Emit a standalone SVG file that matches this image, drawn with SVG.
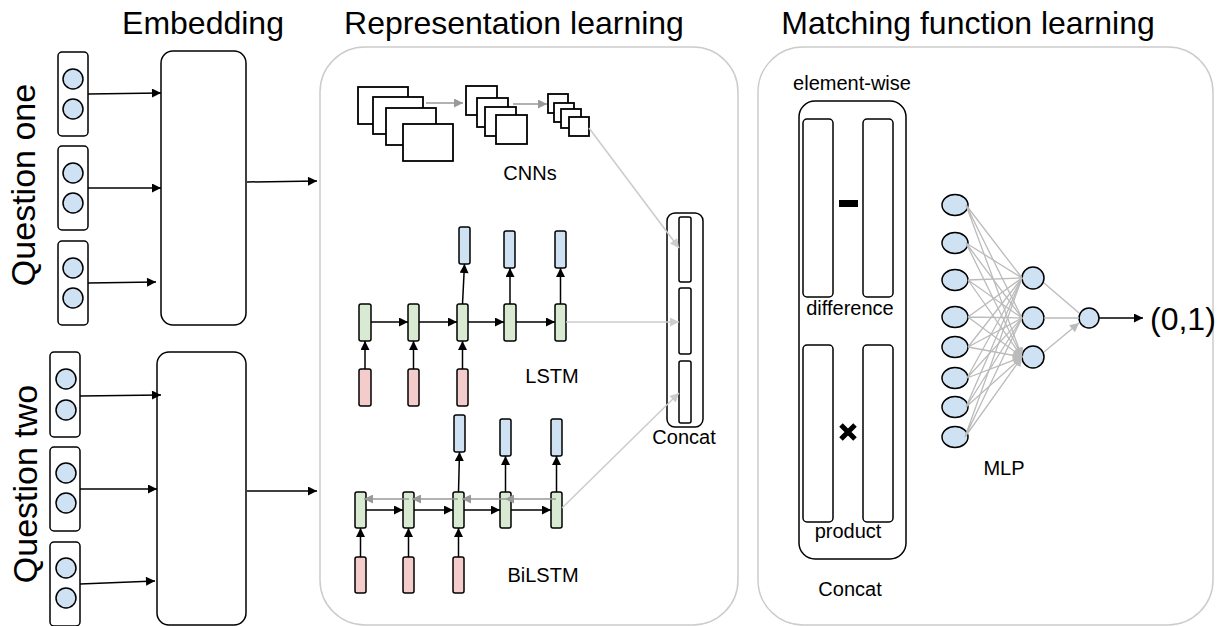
<svg xmlns="http://www.w3.org/2000/svg" width="1224" height="626" viewBox="0 0 1224 626">
<style>
text{font-family:"Liberation Sans",Arial,sans-serif;fill:#000}
.title{font-size:32px;text-anchor:middle}
.q{font-size:34px;text-anchor:middle}
.lbl{font-size:20px;text-anchor:middle}
.panel{fill:none;stroke:#cccccc;stroke-width:1.5}
.box{fill:#fff;stroke:#000;stroke-width:1.5}
.cir{fill:#cfe2f3;stroke:#000;stroke-width:1.5}
.blue{fill:#cfe2f3;stroke:#000;stroke-width:1.5}
.green{fill:#d9ead3;stroke:#000;stroke-width:1.5}
.red{fill:#f4cccc;stroke:#000;stroke-width:1.5}
.fm{fill:#fff;stroke:#000;stroke-width:1.8}
.arr{fill:none;stroke:#000;stroke-width:1.5;marker-end:url(#ah)}
.garr{fill:none;stroke:#999;stroke-width:1.5;marker-end:url(#gh)}
.larr{fill:none;stroke:#cccccc;stroke-width:1.5;marker-end:url(#lh)}
.mlp{fill:none;stroke:#bbbbbb;stroke-width:1.3;marker-end:url(#mh)}
</style>
<defs>
<marker id="ah" viewBox="0 0 10 10" refX="10" refY="5" markerWidth="12" markerHeight="9" markerUnits="userSpaceOnUse" orient="auto"><path d="M0,0 L10,5 L0,10 z" fill="#000"/></marker>
<marker id="gh" viewBox="0 0 10 10" refX="10" refY="5" markerWidth="11" markerHeight="9" markerUnits="userSpaceOnUse" orient="auto"><path d="M0,0 L10,5 L0,10 z" fill="#999"/></marker>
<marker id="lh" viewBox="0 0 10 10" refX="10" refY="5" markerWidth="11" markerHeight="9" markerUnits="userSpaceOnUse" orient="auto"><path d="M0,0 L10,5 L0,10 z" fill="#cccccc"/></marker>
<marker id="mh" viewBox="0 0 10 10" refX="10" refY="5" markerWidth="11" markerHeight="9" markerUnits="userSpaceOnUse" orient="auto"><path d="M0,0 L10,5 L0,10 z" fill="#bbbbbb"/></marker>
</defs>

<g id="titles">
<text class="title" x="203" y="34">Embedding</text>
<text class="title" x="514" y="34">Representation learning</text>
<text class="title" x="968" y="34">Matching function learning</text>
<text class="q" transform="translate(35,185) rotate(-90)">Question one</text>
<text class="q" transform="translate(37,484) rotate(-90)">Question two</text>
</g>

<g id="panel-representation"><rect class="panel" x="320" y="47" width="418" height="578" rx="45"/></g>
<g id="panel-matching"><rect class="panel" x="758" y="47" width="455" height="578" rx="45"/></g>

<g id="q1-word1"><rect class="box" x="58" y="52" width="30" height="84" rx="4"/><circle class="cir" cx="73" cy="79" r="10"/><circle class="cir" cx="73" cy="109" r="10"/></g>
<g id="q1-word2"><rect class="box" x="58" y="146" width="30" height="84" rx="4"/><circle class="cir" cx="73" cy="173" r="10"/><circle class="cir" cx="73" cy="203" r="10"/></g>
<g id="q1-word3"><rect class="box" x="58" y="241" width="30" height="84" rx="4"/><circle class="cir" cx="73" cy="268" r="10"/><circle class="cir" cx="73" cy="298" r="10"/></g>
<g id="q1-embed"><rect class="box" x="161" y="51" width="85" height="274" rx="12"/></g>

<g id="q2-word1"><rect class="box" x="50" y="352" width="30" height="85" rx="4"/><circle class="cir" cx="66" cy="379" r="10"/><circle class="cir" cx="66" cy="410" r="10"/></g>
<g id="q2-word2"><rect class="box" x="50" y="447" width="30" height="84" rx="4"/><circle class="cir" cx="66" cy="473" r="10"/><circle class="cir" cx="66" cy="503" r="10"/></g>
<g id="q2-word3"><rect class="box" x="50" y="542" width="30" height="84" rx="4"/><circle class="cir" cx="66" cy="568" r="10"/><circle class="cir" cx="66" cy="598" r="10"/></g>
<g id="q2-embed"><rect class="box" x="157" y="352" width="89" height="273" rx="12"/></g>

<g id="cnn">
<rect class="fm" x="358" y="87" width="50" height="37"/>
<rect class="fm" x="373" y="97" width="50" height="37"/>
<rect class="fm" x="386" y="108" width="50" height="37"/>
<rect class="fm" x="403" y="124" width="50" height="37"/>
<rect class="fm" x="466" y="86" width="31" height="29"/>
<rect class="fm" x="477" y="98" width="31" height="29"/>
<rect class="fm" x="485" y="107" width="31" height="29"/>
<rect class="fm" x="496" y="115" width="31" height="29"/>
<rect class="fm" x="548" y="94" width="20" height="19"/>
<rect class="fm" x="554" y="103" width="20" height="19"/>
<rect class="fm" x="561" y="109" width="20" height="19"/>
<rect class="fm" x="569" y="117" width="20" height="19"/>
<text class="lbl" x="530" y="180">CNNs</text>
</g>

<g id="lstm">
<rect class="blue" x="459" y="227" width="11" height="37" rx="2"/>
<rect class="blue" x="504" y="231" width="11" height="37" rx="2"/>
<rect class="blue" x="555" y="231" width="11" height="37" rx="2"/>
<rect class="green" x="359" y="304" width="12" height="37" rx="2"/>
<rect class="green" x="408" y="304" width="11" height="37" rx="2"/>
<rect class="green" x="457" y="304" width="11" height="37" rx="2"/>
<rect class="green" x="504" y="304" width="12" height="37" rx="2"/>
<rect class="green" x="555" y="304" width="11" height="37" rx="2"/>
<rect class="red" x="359" y="369" width="12" height="37" rx="2"/>
<rect class="red" x="408" y="369" width="11" height="37" rx="2"/>
<rect class="red" x="457" y="369" width="11" height="37" rx="2"/>
<text class="lbl" x="552" y="383">LSTM</text>
</g>

<g id="bilstm">
<rect class="blue" x="454" y="415" width="11" height="37" rx="2"/>
<rect class="blue" x="500" y="419" width="11" height="37" rx="2"/>
<rect class="blue" x="551" y="419" width="11" height="37" rx="2"/>
<rect class="green" x="355" y="492" width="11" height="36" rx="2"/>
<rect class="green" x="403" y="492" width="11" height="36" rx="2"/>
<rect class="green" x="453" y="492" width="11" height="36" rx="2"/>
<rect class="green" x="500" y="492" width="11" height="36" rx="2"/>
<rect class="green" x="551" y="492" width="11" height="36" rx="2"/>
<rect class="red" x="355" y="557" width="11" height="36" rx="2"/>
<rect class="red" x="403" y="557" width="11" height="36" rx="2"/>
<rect class="red" x="453" y="557" width="11" height="36" rx="2"/>
<text class="lbl" x="543" y="582">BiLSTM</text>
</g>

<g id="concat-rep">
<rect class="box" x="667" y="213" width="36" height="214" rx="8"/>
<rect class="box" x="679" y="217" width="12" height="65" rx="2"/>
<rect class="box" x="679" y="288" width="12" height="66" rx="2"/>
<rect class="box" x="679" y="361" width="12" height="62" rx="2"/>
<text class="lbl" x="684" y="444">Concat</text>
</g>

<g id="concat-match">
<text class="lbl" x="852" y="90">element-wise</text>
<rect class="box" x="799" y="101" width="107" height="458" rx="16"/>
<rect class="box" x="803" y="119" width="30" height="178" rx="4"/>
<rect class="box" x="863" y="119" width="30" height="178" rx="4"/>
<rect x="839" y="200" width="19" height="7" fill="#000"/>
<text class="lbl" x="850" y="315">difference</text>
<rect class="box" x="803" y="345" width="30" height="177" rx="4"/>
<rect class="box" x="863" y="345" width="30" height="177" rx="4"/>
<path d="M841,425 L855,439 M855,425 L841,439" stroke="#000" stroke-width="5"/>
<text class="lbl" x="848" y="538">product</text>
<text class="lbl" x="850" y="596">Concat</text>
</g>

<g id="mlp">
<ellipse class="cir" cx="955" cy="205" rx="13" ry="10.5"/>
<ellipse class="cir" cx="955" cy="243" rx="13" ry="10.5"/>
<ellipse class="cir" cx="955" cy="280" rx="13" ry="10.5"/>
<ellipse class="cir" cx="955" cy="317" rx="13" ry="10.5"/>
<ellipse class="cir" cx="955" cy="347" rx="13" ry="10.5"/>
<ellipse class="cir" cx="955" cy="378" rx="13" ry="10.5"/>
<ellipse class="cir" cx="955" cy="407" rx="13" ry="10.5"/>
<ellipse class="cir" cx="955" cy="437" rx="13" ry="10.5"/>
<ellipse class="cir" cx="1033" cy="278" rx="11" ry="11"/>
<ellipse class="cir" cx="1033" cy="318" rx="11" ry="11"/>
<ellipse class="cir" cx="1033" cy="357" rx="11" ry="11"/>
<circle class="cir" cx="1089" cy="318" r="10"/>
<text class="lbl" x="1004" y="475">MLP</text>
<text x="1150" y="330" font-size="32">(0,1)</text>
</g>

<g id="connectors">
<path class="arr" d="M88,94 L161,93"/>
<path class="arr" d="M88,188 L161,188"/>
<path class="arr" d="M88,283 L156,282"/>
<path class="arr" d="M247,182 L317,181"/>
<path class="arr" d="M80,396 L161,395"/>
<path class="arr" d="M80,489 L157,489"/>
<path class="arr" d="M80,584 L155,581"/>
<path class="arr" d="M247,491 L317,491"/>

<path class="garr" d="M426,103 L463,103"/>
<path class="garr" d="M513,104 L547,104"/>
<path class="larr" d="M589,128 L679,248"/>

<path class="arr" d="M371,322 L408,322"/>
<path class="arr" d="M419,322 L457,322"/>
<path class="arr" d="M468,322 L504,322"/>
<path class="arr" d="M516,322 L555,322"/>
<path class="arr" d="M365,369 L365,341"/>
<path class="arr" d="M413.5,369 L413.5,341"/>
<path class="arr" d="M462.5,369 L462.5,341"/>
<path class="arr" d="M462.5,304 L464.5,264"/>
<path class="arr" d="M510,304 L510,268"/>
<path class="arr" d="M560.5,304 L560.5,268"/>
<path class="larr" d="M566,322 L679,322"/>

<path class="arr" d="M366,510 L403,510"/>
<path class="arr" d="M414,510 L453,510"/>
<path class="arr" d="M464,510 L500,510"/>
<path class="arr" d="M511,510 L551,510"/>
<path class="garr" d="M556,499 L505,499"/>
<path class="garr" d="M505,499 L462,499"/>
<path class="garr" d="M458,499 L412,499"/>
<path class="garr" d="M409,499 L364,499"/>
<path class="arr" d="M360.5,557 L360.5,528"/>
<path class="arr" d="M408.5,557 L408.5,528"/>
<path class="arr" d="M458.5,557 L458.5,528"/>
<path class="arr" d="M458.5,492 L459.5,452"/>
<path class="arr" d="M505.5,492 L505.5,456"/>
<path class="arr" d="M556.5,492 L556.5,456"/>
<path class="larr" d="M562,508 L679,393"/>

<path class="mlp" d="M966,205 L1022,278 M966,205 L1022,318 M966,205 L1022,357"/>
<path class="mlp" d="M966,243 L1022,278 M966,243 L1022,318 M966,243 L1022,357"/>
<path class="mlp" d="M968,280 L1022,278 M968,280 L1022,318 M968,280 L1022,357"/>
<path class="mlp" d="M968,317 L1022,278 M968,317 L1022,318 M968,317 L1022,357"/>
<path class="mlp" d="M968,347 L1022,278 M968,347 L1022,318 M968,347 L1022,357"/>
<path class="mlp" d="M967,378 L1022,278 M967,378 L1022,318 M967,378 L1022,357"/>
<path class="mlp" d="M966,407 L1022,278 M966,407 L1022,318 M966,407 L1022,357"/>
<path class="mlp" d="M965,437 L1022,278 M965,437 L1022,318 M965,437 L1022,357"/>
<path class="mlp" d="M1044,283 L1079,313 M1044,318 L1079,318 M1044,352 L1079,323"/>
<path class="arr" d="M1099,318 L1143,318"/>
</g>
</svg>
